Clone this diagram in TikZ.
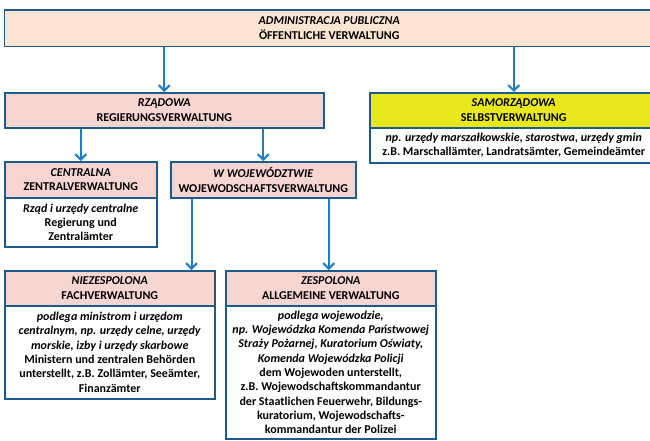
\documentclass[tikz,border=0pt]{standalone}
\usepackage{fontspec}
\setmainfont{Carlito}
\usetikzlibrary{arrows.meta,calc}
\definecolor{bord}{HTML}{1F5A8C}
\definecolor{arrc}{HTML}{1E7DC3}
\definecolor{peach}{HTML}{FDE4D3}
\definecolor{pink}{HTML}{F7D5D1}
\definecolor{yell}{HTML}{E8E81C}
\tikzset{
  box/.style={draw=bord, line width=1.5pt, anchor=north west, inner sep=0pt, align=center,
    font=\fontsize{12}{14.5}\selectfont\bfseries},
  body/.style={box, fill=white, font=\fontsize{12}{14.3}\selectfont\bfseries},
  arr/.style={draw=arrc, line width=2pt, -{Straight Barb[length=5.5pt,width=11pt,line width=2pt]}},
}
\begin{document}
\begin{tikzpicture}[x=1pt,y=-1pt]
\useasboundingbox (0,0) rectangle (650,440);
% top
\node[box, fill=peach, minimum width=650pt, minimum height=36.5pt] (top) at (3.5,9)
  {\textit{ADMINISTRACJA PUBLICZNA}\\ÖFFENTLICHE VERWALTUNG};
% Rzadowa
\node[box, fill=pink, minimum width=319pt, minimum height=35pt] (rz) at (4,92)
  {\textit{RZĄDOWA}\\REGIERUNGSVERWALTUNG};
% Samorzadowa
\node[box, fill=yell, minimum width=288pt, minimum height=35pt] (sam) at (369,92)
  {\textit{SAMORZĄDOWA}\\SELBSTVERWALTUNG};
\node[body, minimum width=288pt, minimum height=35pt] (samb) at (369,127)
  {\textit{np. urzędy marszałkowskie, starostwa, urzędy gmin}\\z.B. Marschallämter, Landratsämter, Gemeindeämter};
% Centralna
\node[box, fill=pink, minimum width=152pt, minimum height=36pt] (cen) at (4,161)
  {\textit{CENTRALNA}\\ZENTRALVERWALTUNG};
\node[body, minimum width=152pt, minimum height=49pt] (cenb) at (4,197)
  {\textit{Rząd i urzędy centralne}\\Regierung und\\Zentralämter};
% Wojewodztwie
\node[box, fill=pink, minimum width=185pt, minimum height=36pt] (woj) at (170,161)
  {\textit{W WOJEWÓDZTWIE}\\WOJEWODSCHAFTSVERWALTUNG};
% Niezespolona
\node[box, fill=pink, minimum width=210pt, minimum height=35pt] (nie) at (4,270)
  {\textit{NIEZESPOLONA}\\FACHVERWALTUNG};
\node[body, minimum width=210pt, minimum height=93pt] (nieb) at (4,305)
  {\textit{podlega ministrom i urzędom}\\\textit{centralnym, np. urzędy celne, urzędy}\\\textit{morskie, izby i urzędy skarbowe}\\Ministern und zentralen Behörden\\unterstellt, z.B. Zollämter, Seeämter,\\Finanzämter};
% Zespolona
\node[box, fill=pink, minimum width=210pt, minimum height=35pt] (zes) at (225,270)
  {\textit{ZESPOLONA}\\ALLGEMEINE VERWALTUNG};
\node[body, minimum width=210pt, minimum height=133pt] (zesb) at (225,305)
  {\textit{podlega wojewodzie,}\\\textit{np. Wojewódzka Komenda Państwowej}\\\textit{Straży Pożarnej, Kuratorium Oświaty,}\\\textit{Komenda Wojewódzka Policji}\\dem Wojewoden unterstellt,\\z.B. Wojewodschaftskommandantur\\der Staatlichen Feuerwehr, Bildungs-\\kuratorium, Wojewodschafts-\\kommandantur der Polizei};
% connectors
\coordinate (nieIn) at ($(nie.north east)+(-24,0)$);
\coordinate (zesIn) at ($(zes.north)+(-2,0)$);
\draw[arr] (top.south -| rz.north) -- (rz.north);
\draw[arr] (top.south -| sam.north) -- (sam.north);
\draw[arr] (rz.south -| cen.north) -- (cen.north);
\draw[arr] (rz.south -| woj.north) -- (woj.north);
\draw[arr] (woj.south -| nieIn) -- (nieIn);
\draw[arr] (woj.south -| zesIn) -- (zesIn);
\end{tikzpicture}
\end{document}
